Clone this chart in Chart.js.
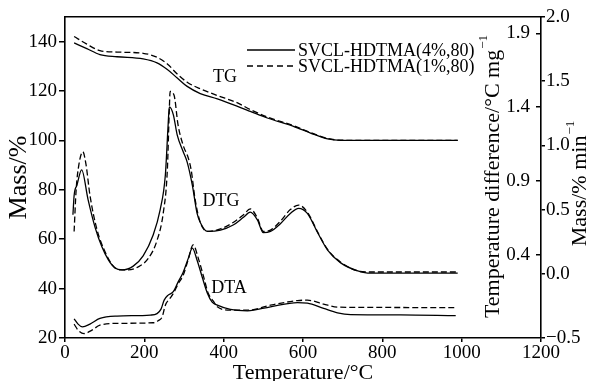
<!DOCTYPE html>
<html>
<head>
<meta charset="utf-8">
<script src="https://cdn.jsdelivr.net/npm/chart.js@4.4.1/dist/chart.umd.min.js"></script>
<style>
  html, body { margin: 0; padding: 0; background: #fff; }
  #wrap { width: 590px; height: 381px; }
</style>
</head>
<body>
<div id="wrap"><canvas id="chart" width="590" height="381"></canvas></div>
<script>
// x tick labels and left/right tick values
const tempTicks = [0, 200, 400, 600, 800, 1000, 1200];
const massTicks = [20, 40, 60, 80, 100, 120, 140];
const tdTicks = [0.4, 0.9, 1.4, 1.9];
const rateTicks = [-0.5, 0.0, 0.5, 1.0, 1.5, 2.0];

const seriesNames = ["SVCL-HDTMA(4%,80)", "SVCL-HDTMA(1%,80)"];

// TG, Mass/%
const tgT4 = [23, 55, 88, 131, 197, 232, 258, 283, 308, 341, 384, 435, 467, 510, 576, 619, 662, 695, 800, 900, 990];
const tg4 = [139.5, 137.2, 134.8, 133.9, 133.0, 131.4, 128.7, 125.3, 121.9, 119.0, 116.8, 113.8, 111.8, 109.1, 105.7, 103.0, 100.6, 100.0, 100.0, 100.0, 100.0];
const tgT1 = [23, 55, 88, 131, 197, 232, 258, 283, 308, 341, 384, 435, 467, 510, 576, 619, 662, 695, 800, 900, 990];
const tg1 = [142.1, 139.0, 136.4, 135.8, 135.3, 133.7, 131.0, 126.9, 123.6, 120.9, 118.2, 115.2, 112.5, 109.5, 106.0, 103.2, 100.8, 100.1, 100.0, 100.0, 100.0];

// DTG, Mass/% min-1
const dtgT4 = [20, 23, 30, 42, 58, 76, 93, 109, 126, 144, 172, 197, 222, 240, 253, 260, 263, 273, 283, 298, 308, 321, 333, 341, 359, 392, 424, 450, 467, 485, 500, 518, 543, 568, 589, 611, 637, 662, 695, 738, 763, 850, 990];
const dtg4 = [0.46, 0.61, 0.69, 0.81, 0.58, 0.36, 0.21, 0.11, 0.045, 0.03, 0.06, 0.14, 0.30, 0.50, 0.77, 1.16, 1.30, 1.24, 1.08, 0.95, 0.87, 0.69, 0.47, 0.40, 0.33, 0.34, 0.38, 0.44, 0.48, 0.42, 0.32, 0.33, 0.39, 0.47, 0.51, 0.47, 0.32, 0.185, 0.085, 0.022, 0.006, 0.006, 0.006];
const dtgT1 = [23, 28, 35, 45, 53, 63, 81, 99, 119, 139, 159, 184, 210, 232, 248, 258, 263, 265, 275, 285, 298, 311, 318, 328, 341, 359, 392, 424, 450, 467, 485, 500, 518, 543, 568, 589, 611, 637, 662, 695, 738, 763, 850, 990];
const dtg1 = [0.33, 0.65, 0.85, 0.95, 0.85, 0.61, 0.34, 0.185, 0.07, 0.03, 0.03, 0.053, 0.12, 0.26, 0.48, 0.81, 1.28, 1.42, 1.39, 1.16, 1.00, 0.90, 0.81, 0.58, 0.40, 0.33, 0.35, 0.40, 0.46, 0.505, 0.435, 0.33, 0.34, 0.41, 0.50, 0.535, 0.48, 0.325, 0.19, 0.09, 0.022, 0.014, 0.014, 0.014];

// DTA, Temperature difference/°C mg-1
const dtaT4 = [23, 33, 44, 63, 88, 131, 215, 232, 242, 250, 260, 273, 285, 298, 311, 321, 333, 346, 359, 371, 384, 417, 460, 518, 586, 611, 652, 687, 720, 846, 985];
const dta4 = [-0.03, -0.066, -0.085, -0.066, -0.028, -0.012, -0.005, 0.005, 0.035, 0.096, 0.13, 0.153, 0.218, 0.285, 0.38, 0.447, 0.366, 0.251, 0.143, 0.082, 0.062, 0.033, 0.024, 0.051, 0.079, 0.076, 0.04, 0.01, -0.002, -0.004, -0.009];
const dtaT1 = [23, 33, 48, 68, 88, 134, 222, 235, 245, 253, 265, 273, 285, 298, 311, 323, 336, 349, 361, 374, 384, 417, 460, 518, 586, 611, 652, 687, 745, 985];
const dta1 = [-0.066, -0.107, -0.13, -0.107, -0.073, -0.061, -0.057, -0.043, -0.017, 0.062, 0.109, 0.141, 0.204, 0.265, 0.373, 0.47, 0.38, 0.258, 0.143, 0.089, 0.051, 0.028, 0.028, 0.062, 0.093, 0.096, 0.069, 0.049, 0.047, 0.045];

const SERIF = "'Liberation Serif', 'Times New Roman', serif";

function pts(xs, ys) {
  return xs.map((x, i) => ({ x: x, y: ys[i] }));
}

function line(xs, ys, axis, dashed) {
  return {
    data: pts(xs, ys),
    yAxisID: axis,
    borderColor: '#000',
    borderWidth: 1.3,
    borderDash: dashed ? [6, 3] : [],
    pointRadius: 0,
    fill: false,
    cubicInterpolationMode: 'monotone'
  };
}

function setTicks(list) {
  return scale => { scale.ticks = list.map(v => ({ value: v })); };
}

function fmt1(v) {
  const s = Math.abs(v).toFixed(1);
  return v < 0 ? '\u2212' + s : s;
}

const tickFont = { family: SERIF, size: 19 };

// labels, legend and the two right-hand titles
const extras = {
  id: 'extras',
  afterDraw(chart) {
    const ctx = chart.ctx;
    const area = chart.chartArea;
    ctx.save();
    ctx.fillStyle = '#000';
    ctx.strokeStyle = '#000';
    ctx.textBaseline = 'middle';

    // curve names
    ctx.font = '18px ' + SERIF;
    ctx.textAlign = 'center';
    ctx.fillText('TG', 225, 77);
    ctx.fillText('DTG', 221, 201);
    ctx.fillText('DTA', 229, 288);

    // legend
    ctx.font = '18px ' + SERIF;
    ctx.textAlign = 'left';
    const rows = [50, 66];
    seriesNames.forEach((name, i) => {
      ctx.lineWidth = 1.3;
      ctx.setLineDash(i === 0 ? [] : [6, 4]);
      ctx.beginPath();
      ctx.moveTo(247, rows[i]);
      ctx.lineTo(295, rows[i]);
      ctx.stroke();
      ctx.setLineDash([]);
      ctx.fillText(name, 298, rows[i] + 1);
    });

    // vertical titles reading bottom to top
    function vTitle(text, cx, cy, size) {
      ctx.save();
      ctx.translate(cx, cy);
      ctx.rotate(-Math.PI / 2);
      ctx.font = size + 'px ' + SERIF;
      const w1 = ctx.measureText(text).width;
      ctx.font = Math.round(size * 0.6) + 'px ' + SERIF;
      const w2 = ctx.measureText('\u22121').width;
      const start = -(w1 + w2) / 2;
      ctx.font = size + 'px ' + SERIF;
      ctx.textAlign = 'left';
      ctx.fillText(text, start, 0);
      ctx.font = Math.round(size * 0.6) + 'px ' + SERIF;
      ctx.fillText('\u22121', start + w1 + 1, -size * 0.42);
      ctx.restore();
    }
    vTitle('Temperature difference/\u00B0C mg', area.right - 48, 177, 22);
    vTitle('Mass/% min', 580, 184, 22);
    ctx.restore();
  }
};

new Chart(document.getElementById('chart'), {
  type: 'line',
  data: {
    datasets: [
      line(tgT4, tg4, 'y', false),
      line(tgT1, tg1, 'y', true),
      line(dtgT4, dtg4, 'yRate', false),
      line(dtgT1, dtg1, 'yRate', true),
      line(dtaT4, dta4, 'yTd', false),
      line(dtaT1, dta1, 'yTd', true)
    ]
  },
  options: {
    responsive: false,
    animation: false,
    layout: { padding: { top: 17, left: 0, right: 0, bottom: 0 } },
    plugins: { legend: { display: false }, tooltip: { enabled: false } },
    scales: {
      x: {
        type: 'linear',
        position: 'bottom',
        min: 0,
        max: 1200,
        afterBuildTicks: setTicks(tempTicks),
        ticks: { font: tickFont, color: '#000', padding: 0, maxRotation: 0, callback: v => String(v) },
        grid: { drawOnChartArea: false, tickLength: 4, color: '#000', lineWidth: 1.5 },
        border: { color: '#000', width: 1.6 },
        title: {
          display: true,
          text: 'Temperature/\u00B0C',
          color: '#000',
          font: { family: SERIF, size: 22, lineHeight: 1.2 },
          padding: { top: 0, bottom: -5 }
        },
        afterFit: s => { s.height = 43; }
      },
      xTop: {
        type: 'linear',
        position: 'top',
        min: 0,
        max: 1200,
        ticks: { display: false },
        grid: { drawOnChartArea: false, drawTicks: false },
        border: { color: '#000', width: 1.6 },
        afterFit: s => { s.height = 0; }
      },
      y: {
        position: 'left',
        min: 20,
        max: 150,
        afterBuildTicks: setTicks(massTicks),
        ticks: { font: tickFont, color: '#000', padding: 2 },
        grid: { drawOnChartArea: false, tickLength: 6, color: '#000', lineWidth: 1.5 },
        border: { color: '#000', width: 1.6 },
        title: {
          display: true,
          text: 'Mass/%',
          color: '#000',
          font: { family: SERIF, size: 26, lineHeight: 1.2 },
          padding: { top: 4, bottom: 0 }
        },
        afterFit: s => { s.width = 65; }
      },
      yTd: {
        position: 'right',
        min: -0.16,
        max: 2.01,
        afterBuildTicks: setTicks(tdTicks),
        ticks: { font: tickFont, color: '#000', mirror: true, padding: -11, callback: v => fmt1(v) },
        grid: { drawOnChartArea: false, tickLength: -5, color: '#000', lineWidth: 1.5 },
        border: { display: false },
        afterFit: s => { s.width = 0; }
      },
      yRate: {
        position: 'right',
        min: -0.5,
        max: 2.0,
        afterBuildTicks: setTicks(rateTicks),
        ticks: { font: tickFont, color: '#000', padding: 1, callback: v => fmt1(v) },
        grid: { drawOnChartArea: false, tickLength: 4, color: '#000', lineWidth: 1.5 },
        border: { color: '#000', width: 1.6 },
        afterFit: s => { s.width = 49; }
      }
    }
  },
  plugins: [extras]
});
</script>
</body>
</html>
